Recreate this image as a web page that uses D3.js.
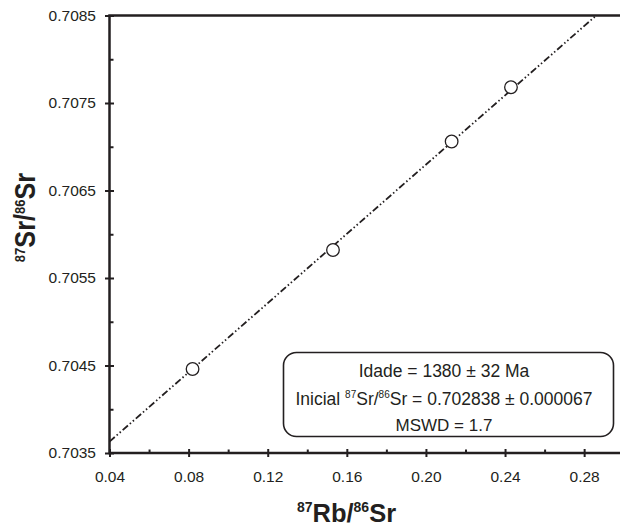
<!DOCTYPE html>
<html>
<head>
<meta charset="utf-8">
<script src="https://d3js.org/d3.v7.min.js"></script>
<style>
    body { margin: 0; background: #fff; }
    svg { display: block; font-family: "Liberation Sans", Arial, sans-serif; }
</style>
</head>
<body>
<script>
//Rb-Sr isochron, data

//sample points
var rbSr = [0.082, 0.153, 0.213, 0.243];
var srSr = [0.70446, 0.70582, 0.70706, 0.70768];

//regression line (intercept = initial ratio)
var isoIntercept = 0.702838;
var isoSlope = 0.01979;

//ticks
var xTicks = [0.04, 0.08, 0.12, 0.16, 0.20, 0.24, 0.28];
var xTickLabels = ["0.04", "0.08", "0.12", "0.16", "0.20", "0.24", "0.28"];
var xMinor = [0.06, 0.10, 0.14, 0.18, 0.22, 0.26];
var yTicks = [0.7035, 0.7045, 0.7055, 0.7065, 0.7075, 0.7085];
var yTickLabels = ["0.7035", "0.7045", "0.7055", "0.7065", "0.7075", "0.7085"];
var yMinor = [0.7040, 0.7050, 0.7060, 0.7070, 0.7080];

//result box text
var ageText = "Idade = 1380 ± 32 Ma";
var initialText = ["Inicial ", "87", "Sr/", "86", "Sr = 0.702838 ± 0.000067"];
var mswdText = "MSWD = 1.7";

(function(){

var ink = "#231f20";

window.onload = drawChart;

function drawChart(){
    var width = 620,
        height = 527;

    var svg = d3.select("body")
        .append("svg")
        .attr("width", width)
        .attr("height", height);

    var x = d3.scaleLinear()
        .domain([0.04, 0.30])
        .range([109.5, 623.7]);

    var y = d3.scaleLinear()
        .domain([0.7035, 0.7085])
        .range([453, 15.5]);

    drawAxes(svg, x, y);
    drawIsochron(svg, x, y);
    drawBox(svg);
    drawTitles(svg);
};

function drawAxes(svg, x, y){
    //left axis with labels, outward half of major ticks
    svg.append("g")
        .attr("transform", "translate(" + x.range()[0] + ",0)")
        .call(d3.axisLeft(y)
            .tickValues(yTicks)
            .tickFormat(function(d, i){ return yTickLabels[i]; })
            .tickSize(4.5)
            .tickSizeOuter(0)
            .tickPadding(9));

    //inward ticks, major and minor
    svg.append("g")
        .attr("transform", "translate(" + x.range()[0] + ",0)")
        .call(d3.axisRight(y).tickValues(yTicks).tickSize(4.5).tickFormat(""));
    svg.append("g")
        .attr("transform", "translate(" + x.range()[0] + ",0)")
        .call(d3.axisRight(y).tickValues(yMinor).tickSize(4).tickFormat(""));

    svg.append("g")
        .attr("transform", "translate(0," + y.range()[0] + ")")
        .call(d3.axisBottom(x)
            .tickValues(xTicks)
            .tickFormat(function(d, i){ return xTickLabels[i]; })
            .tickSize(4)
            .tickSizeOuter(0)
            .tickPadding(14));

    svg.append("g")
        .attr("transform", "translate(0," + y.range()[0] + ")")
        .call(d3.axisTop(x).tickValues(xTicks).tickSize(4).tickFormat(""));
    svg.append("g")
        .attr("transform", "translate(0," + y.range()[0] + ")")
        .call(d3.axisTop(x).tickValues(xMinor).tickSize(3.5).tickFormat(""));

    svg.selectAll(".domain").remove();
    svg.selectAll(".tick line")
        .attr("stroke", ink)
        .attr("stroke-width", 2);
    svg.selectAll(".tick text")
        .attr("fill", ink)
        .attr("font-family", "'Liberation Sans', Arial, sans-serif")
        .attr("font-size", 15.5);

    //frame lines (left, bottom, top)
    svg.append("path")
        .attr("d", "M" + x.range()[1] + "," + y.range()[1] +
            "H" + x.range()[0] + "V" + y.range()[0] + "H" + x.range()[1])
        .attr("fill", "none")
        .attr("stroke", ink)
        .attr("stroke-width", 2.5);
};

function drawIsochron(svg, x, y){
    var x0 = x.domain()[0],
        x1 = (y.domain()[1] - isoIntercept) / isoSlope;

    var line = d3.line()
        .x(function(d){ return x(d); })
        .y(function(d){ return y(isoIntercept + isoSlope * d); });

    svg.append("path")
        .datum([x0, x1])
        .attr("d", line)
        .attr("fill", "none")
        .attr("stroke", ink)
        .attr("stroke-width", 1.8)
        .attr("stroke-dasharray", "7,2.5,1.5,2.5,1.5,2.5");

    svg.selectAll(".pt")
        .data(rbSr)
        .enter()
        .append("circle")
        .attr("class", "pt")
        .attr("cx", function(d){ return x(d); })
        .attr("cy", function(d, i){ return y(srSr[i]); })
        .attr("r", 6.3)
        .attr("fill", "#fff")
        .attr("stroke", ink)
        .attr("stroke-width", 1.3);
};

function drawBox(svg){
    var g = svg.append("g");

    g.append("rect")
        .attr("x", 283.5)
        .attr("y", 352.5)
        .attr("width", 330)
        .attr("height", 84)
        .attr("rx", 13)
        .attr("fill", "#fff")
        .attr("stroke", ink)
        .attr("stroke-width", 1.6);

    var cx = 444;

    g.append("text")
        .attr("x", cx)
        .attr("y", 377)
        .attr("text-anchor", "middle")
        .attr("font-size", 17.5)
        .attr("fill", ink)
        .text(ageText);

    var t = g.append("text")
        .attr("x", cx)
        .attr("y", 405)
        .attr("text-anchor", "middle")
        .attr("font-size", 17.5)
        .attr("fill", ink);
    initialText.forEach(function(s, i){
        var sup = (i == 1 || i == 3);
        t.append("tspan")
            .attr("font-size", sup ? 10 : 17.5)
            .attr("dy", sup ? -7 : (i > 0 ? 7 : 0))
            .text(s);
    });

    g.append("text")
        .attr("x", cx)
        .attr("y", 431)
        .attr("text-anchor", "middle")
        .attr("font-size", 17)
        .attr("fill", ink)
        .text(mswdText);
};

function drawTitles(svg){
    //x title
    var xt = svg.append("text")
        .attr("x", 346.5)
        .attr("y", 522)
        .attr("text-anchor", "middle")
        .attr("font-weight", "bold")
        .attr("fill", ink);
    addRatio(xt, "87", "Rb/", "86", "Sr", 25.5, 14);

    //y title, a bit condensed like the original
    var yt = svg.append("text")
        .attr("transform", "translate(35,217.5) rotate(-90) scale(0.87,1)")
        .attr("text-anchor", "middle")
        .attr("font-weight", "bold")
        .attr("fill", ink);
    addRatio(yt, "87", "Sr/", "86", "Sr", 29, 15);
};

function addRatio(t, a, b, c, d, big, small){
    [a, b, c, d].forEach(function(s, i){
        var sup = (i % 2 == 0);
        t.append("tspan")
            .attr("font-size", sup ? small : big)
            .attr("dy", sup ? -10 : 10)
            .text(s);
    });
};

})();
</script>
</body>
</html>
